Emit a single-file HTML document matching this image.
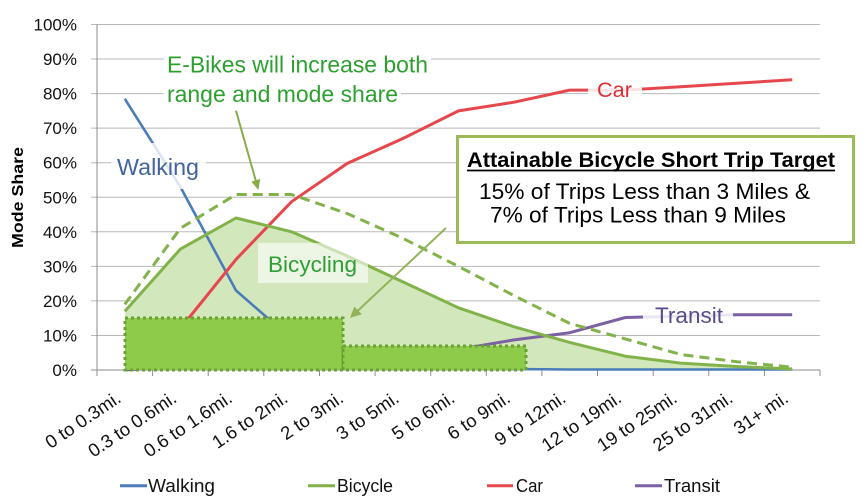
<!DOCTYPE html>
<html><head><meta charset="utf-8"><style>
html,body{margin:0;padding:0;background:#fff;}
svg{display:block;}
text{font-family:"Liberation Sans",Arial,sans-serif;}
</style></head><body>
<svg width="863" height="503" viewBox="0 0 863 503" xmlns="http://www.w3.org/2000/svg">
<rect x="0" y="0" width="863" height="503" fill="#fff"/>
<!-- gridlines -->
<g stroke="#b8b8b8" stroke-width="1">
<line x1="91" y1="24.5" x2="820" y2="24.5"/>
<line x1="91" y1="59" x2="820" y2="59"/>
<line x1="91" y1="93.6" x2="820" y2="93.6"/>
<line x1="91" y1="128.1" x2="820" y2="128.1"/>
<line x1="91" y1="162.7" x2="820" y2="162.7"/>
<line x1="91" y1="197.3" x2="820" y2="197.3"/>
<line x1="91" y1="231.8" x2="820" y2="231.8"/>
<line x1="91" y1="266.4" x2="820" y2="266.4"/>
<line x1="91" y1="300.9" x2="820" y2="300.9"/>
<line x1="91" y1="335.5" x2="820" y2="335.5"/>
</g>
<!-- axes -->
<g stroke="#8c8c8c" stroke-width="1">
<line x1="97" y1="24.5" x2="97" y2="370"/>
<line x1="91" y1="370" x2="820" y2="370"/>
<line x1="97" y1="370" x2="97" y2="376"/>
<line x1="152.6" y1="370" x2="152.6" y2="376"/>
<line x1="208.2" y1="370" x2="208.2" y2="376"/>
<line x1="263.8" y1="370" x2="263.8" y2="376"/>
<line x1="319.5" y1="370" x2="319.5" y2="376"/>
<line x1="375.1" y1="370" x2="375.1" y2="376"/>
<line x1="430.7" y1="370" x2="430.7" y2="376"/>
<line x1="486.3" y1="370" x2="486.3" y2="376"/>
<line x1="541.9" y1="370" x2="541.9" y2="376"/>
<line x1="597.5" y1="370" x2="597.5" y2="376"/>
<line x1="653.2" y1="370" x2="653.2" y2="376"/>
<line x1="708.8" y1="370" x2="708.8" y2="376"/>
<line x1="764.4" y1="370" x2="764.4" y2="376"/>
<line x1="820" y1="370" x2="820" y2="376"/>
</g>
<!-- y tick labels -->
<g font-size="17" fill="#111" text-anchor="end">
<text x="77" y="30.5">100%</text>
<text x="77" y="65">90%</text>
<text x="77" y="99.6">80%</text>
<text x="77" y="134.1">70%</text>
<text x="77" y="168.7">60%</text>
<text x="77" y="203.3">50%</text>
<text x="77" y="237.8">40%</text>
<text x="77" y="272.4">30%</text>
<text x="77" y="306.9">20%</text>
<text x="77" y="341.5">10%</text>
<text x="77" y="376">0%</text>
</g>
<text x="0" y="0" transform="translate(23,197.5) rotate(-90)" font-size="15.5" font-weight="bold" text-anchor="middle" fill="#000" textLength="101" lengthAdjust="spacingAndGlyphs">Mode Share</text>
<!-- area fill -->
<polygon fill="#d3e7bc" points="124.8,370 124.8,311.3 180.4,249.1 236,218 291.6,231.8 347.3,256 402.9,281.9 458.5,307.8 514.1,326.8 569.7,342.4 625.3,356.2 680.9,363.1 736.6,366.5 792.2,369 792.2,370"/>
<!-- series -->
<polyline fill="none" stroke="#7b61a3" stroke-width="3" stroke-linejoin="round" points="124.8,370 180.4,366.5 236,363.1 291.6,359.6 347.3,357.9 402.9,354.5 458.5,349.3 514.1,339.9 569.7,332.7 625.3,317.5 680.9,316.1 736.6,314.7 792.2,314.7"/>
<polyline fill="none" stroke="#4a7cba" stroke-width="2.6" stroke-linejoin="round" points="124.8,98.8 180.4,186.9 236,290.5 291.6,338.9 347.3,356.2 402.9,363.1 458.5,366.5 514.1,369 569.7,369.5 625.3,369.5 680.9,369.5 736.6,369.5 792.2,369.5"/>
<polyline fill="none" stroke="#e5474d" stroke-width="3" stroke-linejoin="round" points="124.8,352.7 180.4,328.5 236,259.4 291.6,201.7 347.3,163.4 402.9,138.5 458.5,110.9 514.1,102.2 569.7,90.1 625.3,90.1 680.9,86.7 736.6,83.2 792.2,79.8"/>
<polyline fill="none" stroke="#82b34a" stroke-width="3" stroke-linejoin="round" points="124.8,311.3 180.4,249.1 236,218 291.6,231.8 347.3,256 402.9,281.9 458.5,307.8 514.1,326.8 569.7,342.4 625.3,356.2 680.9,363.1 736.6,366.5 792.2,369"/>
<polyline fill="none" stroke="#82b34a" stroke-width="3" stroke-dasharray="10,6" stroke-linejoin="round" points="124.8,304.4 180.4,228.3 236,194.5 291.6,194.5 347.3,213.6 402.9,238.3 458.5,266.4 514.1,295.7 569.7,323.4 625.3,338.9 680.9,354.5 736.6,361.7 792.2,367.2"/>
<!-- target rectangles -->
<rect x="125" y="318" width="218" height="52" fill="#8ecb4b" stroke="#6ba035" stroke-width="3" stroke-dasharray="3,3"/>
<rect x="343" y="346" width="183" height="24" fill="#8ecb4b" stroke="#6ba035" stroke-width="3" stroke-dasharray="3,3"/>
<!-- series labels -->
<rect x="111" y="143" width="95" height="46" fill="#fff" fill-opacity="0.8"/>
<text x="117" y="175" font-size="23" fill="#41649c" textLength="82" lengthAdjust="spacingAndGlyphs">Walking</text>
<rect x="258" y="243" width="110" height="40" fill="#fff" fill-opacity="0.6"/>
<text x="268" y="272" font-size="22.5" fill="#2e9e35" textLength="89" lengthAdjust="spacingAndGlyphs">Bicycling</text>
<rect x="588" y="76" width="54" height="26" fill="#fff" fill-opacity="0.85"/>
<text x="597" y="97" font-size="21.5" fill="#dc2f35" textLength="35" lengthAdjust="spacingAndGlyphs">Car</text>
<rect x="643" y="302" width="90" height="27" fill="#fff" fill-opacity="0.85"/>
<text x="655" y="323" font-size="22" fill="#5b4a8a" textLength="68" lengthAdjust="spacingAndGlyphs">Transit</text>
<!-- E-bikes annotation -->
<rect x="164" y="53" width="267" height="27" fill="#fff"/>
<rect x="164" y="83" width="237" height="26" fill="#fff"/>
<text x="167" y="72.5" font-size="23" fill="#2ca02f" textLength="261" lengthAdjust="spacingAndGlyphs">E-Bikes will increase both</text>
<text x="167" y="102" font-size="23" fill="#2ca02f" textLength="231" lengthAdjust="spacingAndGlyphs">range and mode share</text>
<line x1="236" y1="110.7" x2="256" y2="181.5" stroke="#86ad48" stroke-width="2"/>
<polygon points="258.3,190 260.2,179 251.4,181.6" fill="#86ad48"/>
<!-- target box -->
<rect x="457.5" y="136.5" width="396" height="106" fill="#fff" stroke="#9bbb59" stroke-width="3"/>
<text x="467" y="167" font-size="21" font-weight="bold" fill="#000" textLength="368" lengthAdjust="spacingAndGlyphs">Attainable Bicycle Short Trip Target</text>
<line x1="467" y1="170.5" x2="835" y2="170.5" stroke="#000" stroke-width="1.8"/>
<text x="479" y="199" font-size="22.5" fill="#000" textLength="331" lengthAdjust="spacingAndGlyphs">15% of Trips Less than 3 Miles &amp;</text>
<text x="490" y="222.5" font-size="22.5" fill="#000" textLength="296" lengthAdjust="spacingAndGlyphs">7% of Trips Less than 9 Miles</text>
<line x1="446" y1="228" x2="357" y2="311.5" stroke="#93b35a" stroke-width="2"/>
<polygon points="350,318 361.8,314.3 354.4,306.5" fill="#93b35a"/>
<!-- x labels -->
<g font-size="18.5" fill="#111" text-anchor="end">
<text transform="translate(122.3,401) rotate(-34)">0 to 0.3mi.</text>
<text transform="translate(177.9,401) rotate(-34)">0.3 to 0.6mi.</text>
<text transform="translate(233.5,401) rotate(-34)">0.6 to 1.6mi.</text>
<text transform="translate(289.1,401) rotate(-34)">1.6 to 2mi.</text>
<text transform="translate(344.8,401) rotate(-34)">2 to 3mi.</text>
<text transform="translate(400.4,401) rotate(-34)">3 to 5mi.</text>
<text transform="translate(456,401) rotate(-34)">5 to 6mi.</text>
<text transform="translate(511.6,401) rotate(-34)">6 to 9mi.</text>
<text transform="translate(567.2,401) rotate(-34)">9 to 12mi.</text>
<text transform="translate(622.8,401) rotate(-34)">12 to 19mi.</text>
<text transform="translate(678.4,401) rotate(-34)">19 to 25mi.</text>
<text transform="translate(734.1,401) rotate(-34)">25 to 31mi.</text>
<text transform="translate(789.7,401) rotate(-34)">31+ mi.</text>
</g>
<!-- legend -->
<g stroke-width="3">
<line x1="120" y1="485.7" x2="147" y2="485.7" stroke="#4a7cba"/>
<line x1="308" y1="485.7" x2="335" y2="485.7" stroke="#82b34a"/>
<line x1="487" y1="485.7" x2="513" y2="485.7" stroke="#e5474d"/>
<line x1="635" y1="485.7" x2="662" y2="485.7" stroke="#7b61a3"/>
</g>
<g font-size="18" fill="#111">
<text x="148" y="492" textLength="67" lengthAdjust="spacingAndGlyphs">Walking</text>
<text x="337" y="492" textLength="56" lengthAdjust="spacingAndGlyphs">Bicycle</text>
<text x="516" y="492" textLength="27" lengthAdjust="spacingAndGlyphs">Car</text>
<text x="664" y="492" textLength="56" lengthAdjust="spacingAndGlyphs">Transit</text>
</g>
</svg>
</body></html>
